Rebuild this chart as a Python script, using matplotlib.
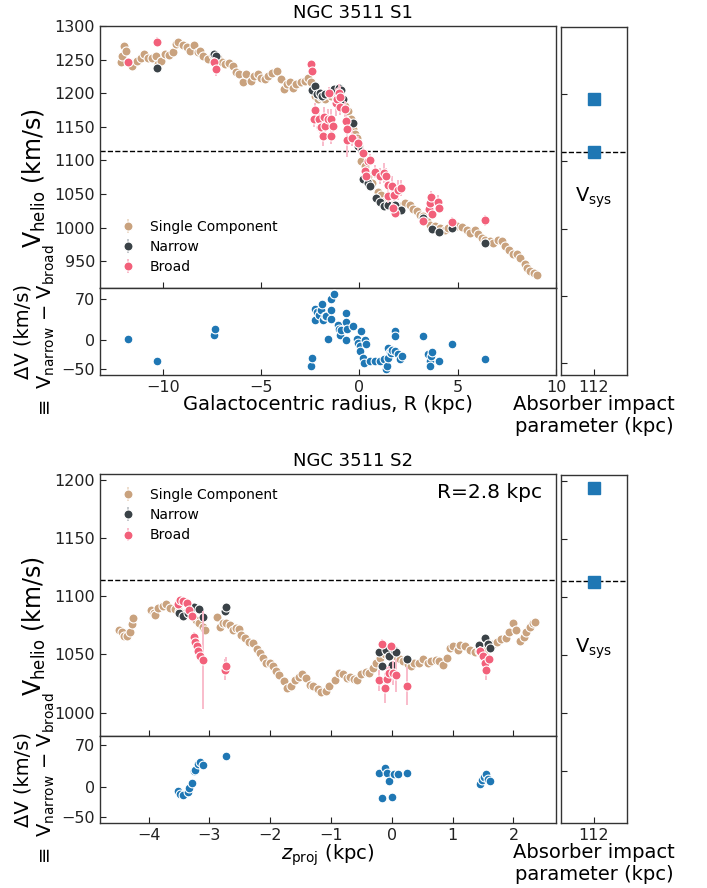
import matplotlib
matplotlib.use("Agg")
import matplotlib.pyplot as plt

plt.rcParams['font.family'] = ['DejaVu Sans']
plt.rcParams['mathtext.default'] = 'regular'

V_SYS = 1114.0
IMPACT = 112

# colours for the three velocity components
c_single = '#c9a27e'
c_narrow = '#3a4247'
c_broad = '#f2607a'
e_single = '#ead7c4'
e_narrow = '#b9bec2'
e_broad = '#f9bccb'
c_diff = '#1f77b4'

# ---------------- slit S1 ----------------
s1_single_r = [-12.14, -12.06, -11.97, -11.89, -11.72, -11.55, -11.33, -11.12, -10.95, -10.78,
               -10.53, -10.36, -10.24, -10.10, -9.90, -9.68, -9.51, -9.34, -9.22, -9.00,
               -8.78, -8.61, -8.44, -8.23, -8.10, -7.98, -7.72, -7.47, -7.21, -7.01,
               -6.84, -6.62, -6.45, -6.28, -6.11, -5.94, -5.77, -5.54, -5.37, -5.17,
               -5.00, -4.83, -4.66, -4.46, -4.18, -4.01, -3.84, -3.67, -3.55, -3.38,
               -3.21, -2.99, -2.79, -2.62, -2.45, -2.28, -2.11, -1.94, -1.73, -1.43,
               -1.17, -0.92, -0.75, -0.58, -0.44, -0.32, -0.24, -0.15, -0.03, 0.10,
               0.27, 0.44, 0.65, 0.92, 1.12, 1.29, 1.60, 1.80, 2.06, 2.31,
               2.57, 2.74, 2.91, 3.08, 3.25, 3.42, 3.59, 3.84, 4.10, 4.35,
               4.52, 4.78, 4.95, 5.20, 5.46, 5.63, 5.88, 6.05, 6.22, 6.39,
               6.65, 6.82, 7.07, 7.24, 7.41, 7.59, 7.79, 8.01, 8.18, 8.40,
               8.52, 8.69, 8.86, 9.03]
s1_single_v = [1247, 1256, 1270, 1263, 1246, 1241, 1248, 1253, 1259, 1252,
               1252, 1255, 1243, 1248, 1258, 1257, 1261, 1273, 1276, 1271,
               1268, 1263, 1271, 1261, 1263, 1256, 1251, 1257, 1253, 1247,
               1243, 1245, 1241, 1231, 1228, 1217, 1228, 1218, 1226, 1228,
               1223, 1221, 1226, 1230, 1233, 1221, 1206, 1213, 1216, 1208,
               1213, 1217, 1218, 1222, 1216, 1196, 1191, 1194, 1191, 1196,
               1194, 1191, 1181, 1174, 1161, 1146, 1139, 1134, 1121, 1099,
               1092, 1077, 1067, 1053, 1049, 1039, 1034, 1032, 1032, 1037,
               1034, 1027, 1024, 1019, 1017, 1009, 1004, 1002, 999, 997,
               999, 1004, 1002, 1001, 997, 992, 996, 990, 985, 982,
               980, 977, 982, 980, 973, 967, 960, 960, 955, 945,
               940, 935, 932, 930]

s1_narrow_r = [-10.31, -7.38, -7.30, -2.41, -2.28, -2.14, -2.02, -1.90, -1.77, -1.29,
               -1.05, -0.92, -0.83, -0.32, -0.07, 0.19, 0.44, 0.53, 0.82, 1.04,
               1.26, 1.46, 1.80, 2.11, 3.25, 3.67, 4.05, 4.73, 6.39]
s1_narrow_v = [1237, 1258, 1255, 1205, 1211, 1199, 1201, 1196, 1199, 1206,
               1208, 1204, 1192, 1156, 1122, 1072, 1067, 1062, 1044, 1038,
               1032, 1033, 1033, 1026, 1014, 998, 994, 999, 977]

s1_broad_r = [-11.80, -10.31, -7.38, -7.30, -2.48, -2.41, -2.28, -2.31, -2.07, -2.02,
              -1.94, -1.85, -1.80, -1.73, -1.60, -1.43, -1.43, -1.34, -1.56, -1.17,
              -1.12, -1.05, -1.00, -1.00, -0.75, -0.66, -0.61, -0.61, -0.37, -0.07,
              0.19, 0.27, 0.31, 0.44, 0.53, 0.78, 1.04, 1.26, 1.33, 1.46,
              1.43, 1.67, 1.77, 1.97, 2.11, 1.80, 1.72, 3.25, 3.54, 3.59,
              3.64, 3.71, 4.01, 4.05, 4.73, 6.39]
s1_broad_v = [1247, 1276, 1246, 1236, 1243, 1233, 1175, 1161, 1161, 1150,
              1149, 1136, 1164, 1151, 1162, 1161, 1136, 1151, 1201, 1186,
              1192, 1201, 1195, 1179, 1176, 1159, 1146, 1130, 1134, 1126,
              1111, 1084, 1077, 1099, 1101, 1083, 1077, 1081, 1076, 1064,
              1047, 1062, 1049, 1056, 1059, 1022, 1029, 1009, 1027, 1037,
              1046, 1020, 1038, 1029, 1008, 1011]
s1_broad_err = [4, 8, 8, 10, 6, 6, 10, 12, 12, 15,
                12, 15, 15, 12, 15, 15, 12, 15, 8, 20,
                15, 12, 15, 12, 12, 15, 15, 25, 12, 10,
                8, 8, 8, 8, 8, 10, 12, 15, 12, 15,
                10, 15, 10, 15, 12, 8, 8, 6, 8, 8,
                8, 8, 10, 8, 8, 8]

s1_dv_r = [-11.80, -10.31, -7.41, -7.33, -2.48, -2.40, -2.28, -2.28, -2.14, -2.07,
           -1.97, -1.90, -1.85, -1.77, -1.68, -1.60, -1.46, -1.43, -1.43, -1.29,
           -1.09, -1.05, -1.00, -0.92, -0.66, -0.66, -0.66, -0.61, -0.32, -0.15,
           -0.07, 0.02, 0.02, 0.07, 0.19, 0.24, 0.27, 0.31, 0.53, 0.78,
           1.04, 1.26, 1.33, 1.38, 1.43, 1.46, 1.55, 1.60, 1.67, 1.80,
           1.80, 1.80, 1.97, 2.06, 2.14, 3.25, 3.47, 3.59, 3.64, 3.67,
           3.59, 4.05, 4.73, 6.39]
s1_dv = [2, -37, 8, 18, -44, -31, 33, 53, 47, 42,
         51, 61, 33, 40, 40, 1, 36, 50, 69, 77,
         25, 18, 8, 17, 46, 31, 0, 18, 23, 1,
         -6, -11, -19, 14, -31, -39, 0, -7, -36, -37,
         -36, -33, -50, -44, -31, -14, -21, -22, -17, -19,
         15, 7, -25, -33, -28, 6, -25, -36, -27, -21,
         -44, -36, -8, -33]

s1_abs_v = [1193, 1114]

# ---------------- slit S2 ----------------
s2_single_z = [-4.48, -4.44, -4.40, -4.35, -4.31, -4.27, -4.25, -3.96, -3.92, -3.89,
               -3.84, -3.77, -3.71, -3.65, -3.56, -3.50, -3.40, -3.30, -3.22, -3.17,
               -3.11, -3.07, -2.88, -2.83, -2.77, -2.73, -2.67, -2.62, -2.56, -2.52,
               -2.48, -2.41, -2.35, -2.28, -2.22, -2.17, -2.12, -2.07, -2.00, -1.96,
               -1.90, -1.85, -1.78, -1.73, -1.66, -1.60, -1.53, -1.48, -1.41, -1.34,
               -1.29, -1.22, -1.16, -1.09, -1.03, -0.94, -0.87, -0.81, -0.74, -0.69,
               -0.63, -0.58, -0.50, -0.43, -0.37, -0.31, -0.26, -0.19, -0.12, -0.05,
               0.02, 0.07, 0.13, 0.19, 0.26, 0.32, 0.37, 0.44, 0.52, 0.59,
               0.65, 0.72, 0.77, 0.84, 0.91, 0.96, 1.00, 1.09, 1.12, 1.21,
               1.29, 1.36, 1.44, 1.53, 1.60, 1.66, 1.73, 1.80, 1.87, 1.93,
               1.99, 2.05, 2.11, 2.17, 2.21, 2.27, 2.32, 2.35]
s2_single_v = [1071, 1069, 1066, 1066, 1069, 1076, 1081, 1088, 1086, 1084,
               1090, 1092, 1093, 1090, 1089, 1087, 1086, 1083, 1080, 1077,
               1074, 1071, 1082, 1074, 1077, 1077, 1075, 1071, 1073, 1072,
               1067, 1064, 1061, 1060, 1055, 1051, 1047, 1043, 1043, 1040,
               1036, 1032, 1027, 1021, 1023, 1028, 1031, 1033, 1030, 1024,
               1023, 1020, 1018, 1019, 1023, 1028, 1034, 1033, 1030, 1031,
               1029, 1028, 1033, 1035, 1034, 1038, 1043, 1047, 1050, 1049,
               1052, 1049, 1046, 1044, 1042, 1040, 1043, 1043, 1046, 1043,
               1044, 1045, 1044, 1041, 1047, 1056, 1057, 1054, 1058, 1057,
               1054, 1052, 1053, 1054, 1060, 1059, 1061, 1063, 1064, 1069,
               1077, 1071, 1062, 1065, 1069, 1074, 1077, 1078]

s2_narrow_z = [-3.50, -3.44, -3.36, -3.25, -3.17, -3.10, -2.75, -2.73, -0.21, -0.16,
               -0.09, -0.05, 0.01, 0.04, 0.07, 0.25, 1.44, 1.53, 1.58, 1.61]
s2_narrow_v = [1086, 1083, 1086, 1091, 1089, 1082, 1087, 1091, 1052, 1040,
               1054, 1049, 1041, 1054, 1052, 1046, 1058, 1064, 1059, 1056]

s2_broad_z = [-3.51, -3.48, -3.43, -3.37, -3.33, -3.28, -3.26, -3.23, -3.20, -3.18,
              -3.15, -3.10, -2.75, -2.72, -0.21, -0.16, -0.12, -0.08, -0.04, -0.01,
              0.02, 0.07, 0.25, 1.45, 1.50, 1.53, 1.55, 1.60]
s2_broad_v = [1093, 1097, 1096, 1094, 1088, 1083, 1065, 1061, 1057, 1053,
              1049, 1045, 1037, 1040, 1028, 1059, 1021, 1029, 1034, 1057,
              1034, 1032, 1023, 1053, 1049, 1043, 1037, 1046]
s2_broad_err = [3, 3, 3, 3, 3, 4, 4, 4, 4, 4,
                4, 42, 9, 8, 9, 4, 13, 10, 6, 4,
                10, 14, 16, 4, 4, 4, 9, 4]

s2_dv_z = [-3.52, -3.48, -3.43, -3.36, -3.33, -3.28, -3.26, -3.23, -3.18, -3.15,
           -3.10, -2.73, -0.21, -0.16, -0.12, -0.08, -0.05, 0.00, 0.03, 0.10,
           0.25, 1.45, 1.49, 1.51, 1.55, 1.58, 1.61]
s2_dv = [-6, -12, -14, -9, -1, 6, 27, 29, 39, 41,
         37, 51, 24, -19, 31, 24, 10, -16, 21, 22,
         23, 5, 12, 16, 22, 14, 10]

s2_abs_v = [1194, 1113]

W, H = 707, 888
fig = plt.figure(figsize=(W / 100, H / 100), dpi=100)


def px_axes(l, t, r, b):
    return fig.add_axes([l / W, 1 - b / H, (r - l) / W, (b - t) / H])


def style(ax):
    ax.tick_params(direction='in', length=4, width=0.8, labelsize=11.5, colors='#222222')
    for s in ax.spines.values():
        s.set_color('#333333')
        s.set_linewidth(1.0)


def draw_components(ax, single, narrow, broad):
    x, v = single
    ax.errorbar(x, v, yerr=[3] * len(x), fmt='o', ms=6.5, mfc=c_single, mec='white',
                mew=0.8, ecolor=e_single, elinewidth=1.2, label='Single Component', zorder=2)
    x, v = narrow
    ax.errorbar(x, v, yerr=[3] * len(x), fmt='o', ms=6.5, mfc=c_narrow, mec='white',
                mew=0.8, ecolor=e_narrow, elinewidth=1.2, label='Narrow', zorder=3)
    x, v, e = broad
    ax.errorbar(x, v, yerr=e, fmt='o', ms=6.5, mfc=c_broad, mec='white',
                mew=0.8, ecolor=e_broad, elinewidth=1.4, label='Broad', zorder=4)


def panel(top, title, single, narrow, broad, dv, abs_v, xlim, ylim, yticks,
          rlim, rticks, dvlim, xticks, xlabel, leg_loc, vsys_y):
    ax = px_axes(100, top, 556, top + 262)
    axd = px_axes(100, top + 262, 556, top + 349)
    axr = px_axes(561, top + 1, 627, top + 349)

    draw_components(ax, single, narrow, broad)
    ax.axhline(V_SYS, color='black', ls='--', lw=1.0, zorder=1)
    ax.set_xlim(xlim)
    ax.set_ylim(ylim)
    ax.set_yticks(yticks)
    ax.set_xticks(xticks)
    style(ax)
    ax.tick_params(labelbottom=False)
    ax.set_ylabel(r'V$_{\mathrm{helio}}$ (km/s)', fontsize=17)
    ax.yaxis.set_label_coords(-0.113, 0.42)
    ax.legend(loc=leg_loc, frameon=False, fontsize=10, handletextpad=0.6,
              labelspacing=0.45, borderaxespad=0.6)
    ax.set_title(title, fontsize=13, x=0.555, pad=6)

    axd.scatter(dv[0], dv[1], s=40, color=c_diff, edgecolor='white', linewidth=0.8, zorder=3)
    axd.set_xlim(xlim)
    axd.set_ylim(dvlim)
    axd.set_yticks([-50, 0, 70])
    axd.set_xticks(xticks)
    style(axd)
    axd.set_ylabel('ΔV (km/s)\n' + r'$\equiv$ V$_{\mathrm{narrow}}$ $-$ V$_{\mathrm{broad}}$',
                   fontsize=14)
    axd.yaxis.set_label_coords(-0.095, 0.5)
    axd.set_xlabel(xlabel, fontsize=14, labelpad=0)

    axr.plot([IMPACT] * len(abs_v), abs_v, 's', ms=8.5, color=c_diff, zorder=3)
    axr.axhline(V_SYS, color='black', ls='--', lw=1.0, zorder=1)
    axr.set_xlim(IMPACT - 1, IMPACT + 1)
    axr.set_xticks([IMPACT])
    axr.set_ylim(rlim)
    axr.set_yticks(rticks)
    style(axr)
    axr.tick_params(labelleft=False)
    axr.text(IMPACT, vsys_y, r'V$_{\mathrm{sys}}$', fontsize=14, ha='center', va='center')
    axr.set_xlabel('Absorber impact\nparameter (kpc)', fontsize=14, labelpad=0)
    return ax


panel(26, 'NGC 3511 S1',
      (s1_single_r, s1_single_v), (s1_narrow_r, s1_narrow_v),
      (s1_broad_r, s1_broad_v, s1_broad_err), (s1_dv_r, s1_dv), s1_abs_v,
      xlim=(-13.2, 10), ylim=(910, 1300), yticks=range(950, 1301, 50),
      rlim=(782, 1300), rticks=range(800, 1201, 100), dvlim=(-60, 88),
      xticks=[-10, -5, 0, 5, 10], xlabel='Galactocentric radius, R (kpc)',
      leg_loc='lower left', vsys_y=1046)

ax2 = panel(474, 'NGC 3511 S2',
            (s2_single_z, s2_single_v), (s2_narrow_z, s2_narrow_v),
            (s2_broad_z, s2_broad_v, s2_broad_err), (s2_dv_z, s2_dv), s2_abs_v,
            xlim=(-4.8, 2.7), ylim=(980, 1205), yticks=range(1000, 1201, 50),
            rlim=(905, 1205), rticks=range(950, 1201, 50), dvlim=(-60, 85),
            xticks=[-4, -3, -2, -1, 0, 1, 2], xlabel=r'$\mathit{z}_{\mathrm{proj}}$ (kpc)',
            leg_loc='upper left', vsys_y=1055)
ax2.text(0.97, 0.93, 'R=2.8 kpc', transform=ax2.transAxes, fontsize=14.5,
         ha='right', va='center')

fig.savefig('out.png', dpi=100)
